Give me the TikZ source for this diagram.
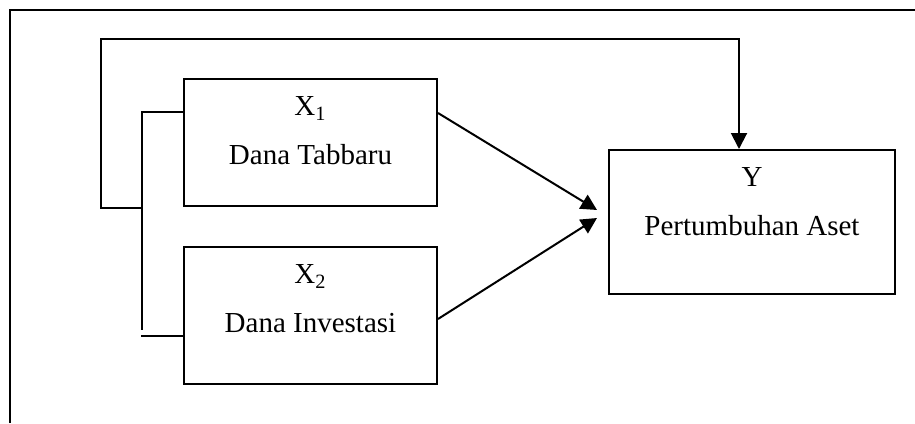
\documentclass[tikz,border=0pt]{standalone}
\usepackage{fontspec}
\setmainfont{Liberation Serif}
\usetikzlibrary{positioning,arrows.meta}
\begin{document}
\begin{tikzpicture}[x=0.5pt, y=-0.5pt, line width=1pt,
  box/.style={draw, rectangle, minimum width=126.5pt, inner sep=0pt, anchor=north west},
  lbl/.style={inner sep=0pt, align=center, font=\fontsize{14.5pt}{24.5pt}\selectfont},
  arr/.style={-{Triangle[length=8pt, width=8pt]}}]
  \useasboundingbox (0,0) rectangle (915,423);
  % Frame
  \draw (10,423) -- (10,10) -- (915,10);
  % Nodes
  \node[box, minimum height=63.5pt] (x1) at (183,78) {};
  \node[box, minimum height=68.5pt, below=19.5pt of x1] (x2) {};
  \node[box, minimum width=143pt, minimum height=72pt] (y) at (608,149) {};
  \node[lbl, below=9pt of x1.north] (x1lbl) {X\textsubscript{1}\\Dana Tabbaru};
  \node[lbl, below=9pt of x2.north] (x2lbl) {X\textsubscript{2}\\Dana Investasi};
  \node[lbl, below=9pt of y.north] (ylbl) {Y\\Pertumbuhan Aset};
  % Points
  \coordinate (bt) at (142,112);
  \coordinate (bb) at (142,330);
  \coordinate (bs) at (141,336);
  \coordinate (jn) at (142,208);
  \coordinate (fb1) at (101,208);
  \coordinate (fb2) at (101,39);
  \coordinate (fb3) at (739,39);
  \coordinate (t1) at (597,210);
  \coordinate (t2) at (597,218);
  % Connections
  \draw (x1.west |- bt) -- (bt) -- (bb);
  \draw (bs) -- (x2.west |- bs);
  \draw[arr] (jn) -- (fb1) -- (fb2) -- (fb3) -- (y.north -| fb3);
  \draw[arr] ([yshift=-17.5pt]x1.north east) -- (t1);
  \draw[arr] ([yshift=-36.5pt]x2.north east) -- (t2);
\end{tikzpicture}
\end{document}
